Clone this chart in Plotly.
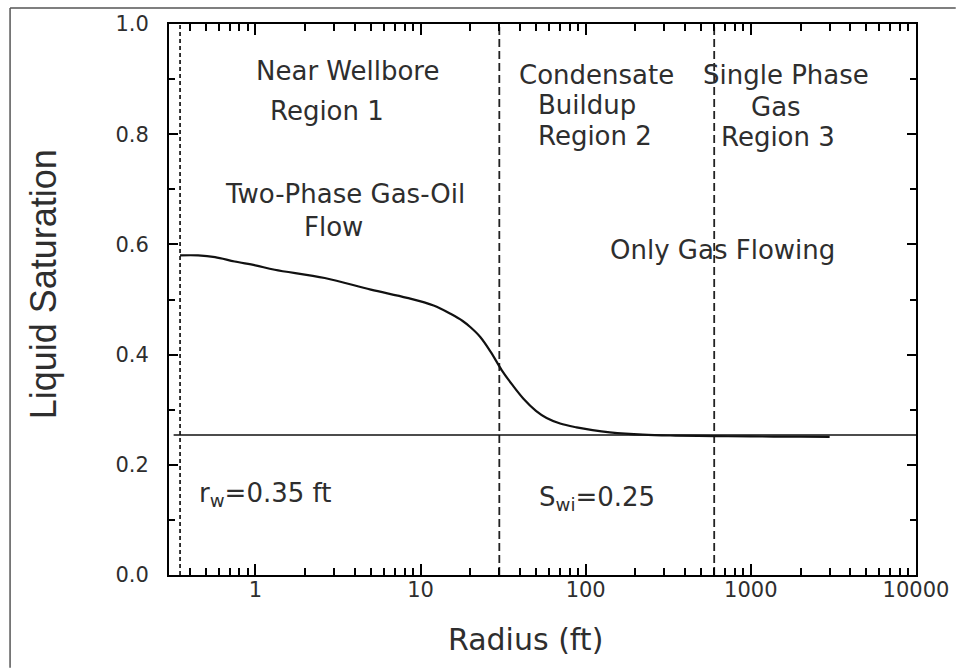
import plotly.graph_objects as go
import numpy as np

# ---- data ----
radius_ft = [0.35, 0.45, 0.57, 0.75, 1.0, 1.31, 2.63, 5.0, 8.3, 12, 15.2, 18, 20, 23,
             26.6, 31, 36, 42, 50, 58, 70, 88, 110, 140, 222, 350, 600, 1000, 2000, 3000]
liquid_sat = [0.580, 0.580, 0.577, 0.569, 0.562, 0.554, 0.539, 0.518, 0.503, 0.489, 0.474,
              0.461, 0.450, 0.432, 0.405, 0.372, 0.345, 0.320, 0.298, 0.285, 0.275, 0.268,
              0.263, 0.259, 0.2547, 0.253, 0.252, 0.2515, 0.251, 0.2505]
swi_x = [0.32, 10000]
swi_y = [0.254, 0.254]
boundaries = [0.35, 30, 600]
boundary_dash = ["4px,3px", "8px,4px", "8px,4px"]
x_tickvals = [1, 10, 100, 1000, 10000]
x_ticktext = ["1", "10", "100", "1000", "10000"]
x_minor = [m * 10.0 ** e for e in range(-1, 4) for m in range(2, 10) if 0.3 <= m * 10.0 ** e <= 10000]
y_tickvals = [0.0, 0.2, 0.4, 0.6, 0.8, 1.0]
y_ticktext = ["0.0", "0.2", "0.4", "0.6", "0.8", "1.0"]

TXT = "#2e2e2e"
FONT = "DejaVu Sans"
XRANGE = [float(np.log10(0.3)), 4.0]

fig = go.Figure()

for b, d in zip(boundaries, boundary_dash):
    fig.add_trace(go.Scatter(x=[b, b], y=[0, 1], mode="lines",
                             line=dict(color="#222222", width=1.8, dash=d),
                             showlegend=False, hoverinfo="skip"))

fig.add_trace(go.Scatter(x=swi_x, y=swi_y, mode="lines",
                         line=dict(color="#111111", width=1.5),
                         showlegend=False))
fig.add_trace(go.Scatter(x=radius_ft, y=liquid_sat, mode="lines",
                         line=dict(color="#111111", width=2.2, shape="spline", smoothing=1.0),
                         showlegend=False))

L, R, T, B = 169, 40, 23, 93
W, H = 961, 668
PW, PH = W - L - R, H - T - B

def px(xp):
    return (xp - L) / PW

def py(yp):
    return (H - B - yp) / PH

texts = [
    ("Near Wellbore", 349, 70), ("Region 1", 328, 110),
    ("Two-Phase Gas-Oil", 346, 193), ("Flow", 335, 226),
    ("Condensate", 599, 74), ("Buildup", 590, 104), ("Region 2", 598, 135),
    ("Single Phase", 790, 74), ("Gas", 780, 106), ("Region 3", 782, 136),
    ("Only Gas Flowing", 726, 249),
    ("r<sub>w</sub>=0.35 ft", 266, 494),
    ("S<sub>wi</sub>=0.25", 600, 498),
]
ann = []
for t, x, y in texts:
    ann.append(dict(text=t, x=px(x), y=py(y), xref="paper", yref="paper",
                    showarrow=False, xanchor="center", yanchor="middle",
                    font=dict(family=FONT, size=26, color=TXT)))
ann.append(dict(text="Radius (ft)", x=px(528), y=py(640), xref="paper", yref="paper",
                showarrow=False, xanchor="center", yanchor="middle",
                font=dict(family=FONT, size=30, color=TXT)))
ann.append(dict(text="Liquid Saturation", x=px(43), y=py(284), xref="paper", yref="paper",
                showarrow=False, xanchor="center", yanchor="middle", textangle=-90,
                font=dict(family="Liberation Sans Narrow, Liberation Sans", size=36, color=TXT)))

shapes = [
    dict(type="line", xref="paper", yref="paper", x0=px(9), x1=px(961), y0=py(7), y1=py(7),
         line=dict(color="#555555", width=1.5)),
    dict(type="line", xref="paper", yref="paper", x0=px(9), x1=px(9), y0=py(7), y1=py(668),
         line=dict(color="#555555", width=1.5)),
]

fig.update_layout(
    width=W, height=H, margin=dict(l=L, r=R, t=T, b=B),
    paper_bgcolor="white", plot_bgcolor="white",
    annotations=ann, shapes=shapes, showlegend=False,
    xaxis=dict(type="log", range=XRANGE, tickmode="array",
               tickvals=x_tickvals, ticktext=x_ticktext,
               ticks="inside", ticklen=11, tickwidth=2, tickcolor="#000000",
               showline=True, linecolor="black", linewidth=2, mirror="allticks",
               showgrid=False, zeroline=False,
               minor=dict(ticks="inside", ticklen=7, tickwidth=1.6, tickcolor="#000000",
                          tickmode="array", tickvals=x_minor, showgrid=False),
               tickfont=dict(family=FONT, size=21, color=TXT), ticklabelstandoff=-5),
    yaxis=dict(range=[0, 1], tickmode="array", tickvals=y_tickvals, ticktext=y_ticktext,
               ticks="inside", ticklen=9, tickwidth=2, tickcolor="black",
               showline=True, linecolor="black", linewidth=2, mirror="allticks",
               showgrid=False, zeroline=False,
               minor=dict(ticks="inside", ticklen=6, tickwidth=1.6, tickcolor="black",
                          dtick=0.1, showgrid=False),
               tickfont=dict(family=FONT, size=21, color=TXT), ticklabelstandoff=14),
)

fig.write_html("out.html")
